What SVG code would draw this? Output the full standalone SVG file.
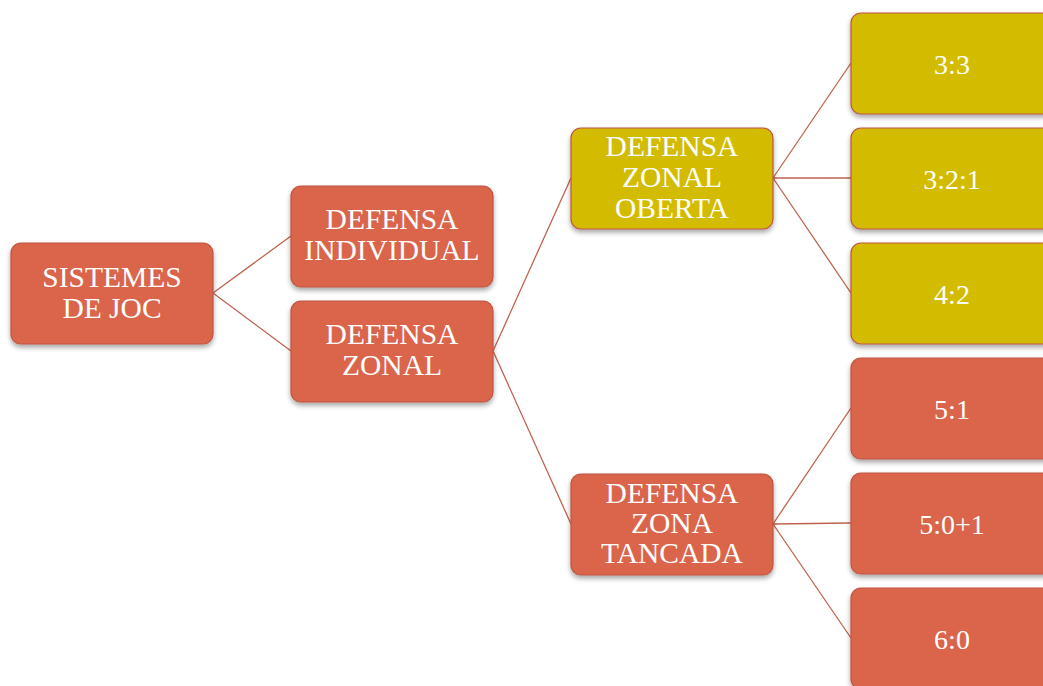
<svg xmlns="http://www.w3.org/2000/svg" width="1043" height="686" viewBox="0 0 1043 686">
<style>
.red{fill:#DA654C;stroke:#BE5440;stroke-width:1.2}
.yel{fill:#D3BC00;stroke:#BE5440;stroke-width:1.2}
.t{font-family:"Liberation Serif","Times New Roman",serif;font-size:29.5px;fill:#FFFFFF;text-anchor:middle}
.n{font-family:"Liberation Serif","Times New Roman",serif;font-size:28px;fill:#FFFFFF;text-anchor:middle}
.c{stroke:#C0634E;stroke-width:1.3;fill:none}
</style>
<defs>
<filter id="sh" x="-10%" y="-10%" width="120%" height="130%">
<feDropShadow dx="0" dy="3" stdDeviation="2.5" flood-color="#000" flood-opacity="0.35"/>
</filter>
</defs>
<rect width="1043" height="686" fill="#FFFFFF"/>
<g id="connectors">
<path class="c" d="M213 293 L291 236 M213 293 L291 351"/>
<path class="c" d="M493 351 L571 178 M493 351 L571 524"/>
<path class="c" d="M773 178 L851 63 M773 178 L851 178 M773 178 L851 293"/>
<path class="c" d="M773 524 L851 408 M773 524 L851 523 M773 524 L851 638"/>
</g>
<g id="n-sistemes"><rect class="red" filter="url(#sh)" x="11" y="243" width="202" height="101" rx="10"/>
<text class="t" x="112" y="287">SISTEMES</text><text class="t" x="112" y="318">DE JOC</text></g>
<g id="n-individual"><rect class="red" filter="url(#sh)" x="291" y="186" width="202" height="101" rx="10"/>
<text class="t" x="392" y="229">DEFENSA</text><text class="t" x="392" y="260">INDIVIDUAL</text></g>
<g id="n-zonal"><rect class="red" filter="url(#sh)" x="291" y="301" width="202" height="101" rx="10"/>
<text class="t" x="392" y="344">DEFENSA</text><text class="t" x="392" y="375">ZONAL</text></g>
<g id="n-oberta"><rect class="yel" filter="url(#sh)" x="571" y="128" width="202" height="101" rx="10"/>
<text class="t" x="672" y="156">DEFENSA</text><text class="t" x="672" y="187">ZONAL</text><text class="t" x="672" y="218">OBERTA</text></g>
<g id="n-tancada"><rect class="red" filter="url(#sh)" x="571" y="474" width="202" height="101" rx="10"/>
<text class="t" x="672" y="503">DEFENSA</text><text class="t" x="672" y="533">ZONA</text><text class="t" x="672" y="563">TANCADA</text></g>
<g id="n-33"><rect class="yel" filter="url(#sh)" x="851" y="13" width="202" height="101" rx="10"/><text class="n" x="952" y="74">3:3</text></g>
<g id="n-321"><rect class="yel" filter="url(#sh)" x="851" y="128" width="202" height="101" rx="10"/><text class="n" x="952" y="189">3:2:1</text></g>
<g id="n-42"><rect class="yel" filter="url(#sh)" x="851" y="243" width="202" height="101" rx="10"/><text class="n" x="952" y="304">4:2</text></g>
<g id="n-51"><rect class="red" filter="url(#sh)" x="851" y="358" width="202" height="101" rx="10"/><text class="n" x="952" y="419">5:1</text></g>
<g id="n-501"><rect class="red" filter="url(#sh)" x="851" y="473" width="202" height="101" rx="10"/><text class="n" x="952" y="534">5:0+1</text></g>
<g id="n-60"><rect class="red" filter="url(#sh)" x="851" y="588" width="202" height="101" rx="10"/><text class="n" x="952" y="649">6:0</text></g>
</svg>
